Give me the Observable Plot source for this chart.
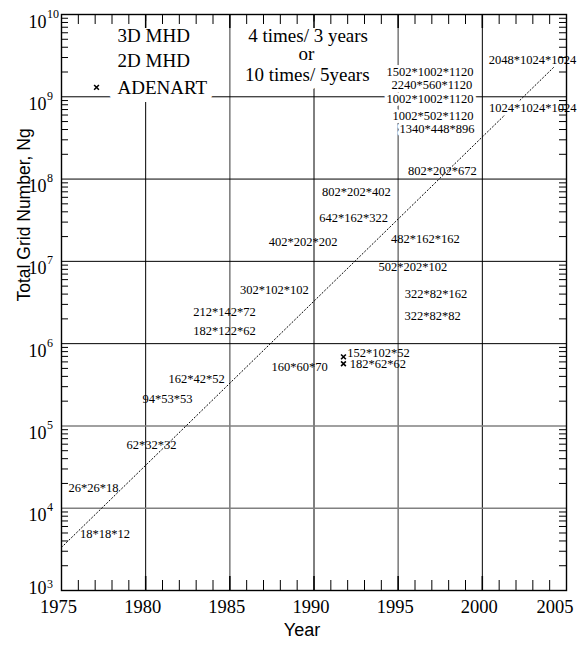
<!DOCTYPE html>
<html><head><meta charset="utf-8">
<script src="https://cdn.jsdelivr.net/npm/d3@7"></script>
<script src="https://cdn.jsdelivr.net/npm/@observablehq/plot@0.6"></script>
<style>body{margin:0;background:#fff}</style>
</head><body><div id="chart"></div>
<script>
// ---- data ----
const xTicks = [1975, 1980, 1985, 1990, 1995, 2000, 2005];
const decades = [3, 4, 5, 6, 7, 8, 9, 10];

const labelText = ["18*18*12","26*26*18","62*32*32","94*53*53","162*42*52","182*122*62","212*142*72","302*102*102","160*60*70","402*202*202","642*162*322","802*202*402","482*162*162","502*202*102","322*82*162","322*82*82","152*102*52","182*62*62","802*202*672"];
const labelYear = [1977.58,1976.90,1980.35,1981.30,1983.02,1984.68,1984.68,1987.65,1989.14,1989.35,1992.35,1992.52,1996.62,1995.88,1997.25,1997.04,1993.83,1993.80,1997.63];
const labelValue = [4.9e3,1.74e4,5.9e4,2.14e5,3.7e5,1.41e6,2.4e6,4.47e6,5.25e5,1.74e7,3.39e7,6.9e7,1.86e7,8.5e6,3.98e6,2.19e6,7.6e5,5.6e5,1.26e8];

const boxedText = ["1502*1002*1120","2240*560*1120","1002*1002*1120","1002*502*1120","1340*448*896","2048*1024*1024","1024*1024*1024"];
const boxedYear = [1996.89,1997.0,1996.89,1997.07,1997.31,2002.98,2003.0];
const boxedValue = [2.0e9,1.38e9,9.3e8,5.9e8,4.07e8,2.82e9,7.4e8];

const legendText = ["3D MHD","2D MHD","ADENART"];
const legendYear = [1978.33,1978.33,1978.33];
const legendValue = [5.56e9,2.75e9,1.3e9];

const noteText = ["4 times/ 3 years","or","10 times/ 5years"];
const noteYear = [1989.65,1989.55,1989.6];
const noteValue = [5.56e9,3.36e9,1.86e9];

const markerYear = [1977.08, 1991.75, 1991.75];
const markerValue = [1.3e9, 6.9e5, 5.7e5];

const trendYear = [1975, 2004.35];
const trendValue = [3340, 2.4e9];

// ---- tables ----
const zip = (t, x, y) => t.map((d, i) => ({text: d, year: x[i], value: y[i]}));
const labels = zip(labelText, labelYear, labelValue);
const boxed = zip(boxedText, boxedYear, boxedValue);
const legend = zip(legendText, legendYear, legendValue);
const notes = zip(noteText, noteYear, noteValue);
const markers = markerYear.map((d, i) => ({year: d, value: markerValue[i]}));
const trend = trendYear.map((d, i) => ({year: d, value: trendValue[i]}));

const W = 578, H = 645, mL = 61, mR = 12, mT = 14, mB = 55;
const pxYear = (W - mL - mR) / 30, pxDec = (H - mT - mB) / 7;
const allYears = d3.range(1976, 2005);
const minorYears = allYears.filter(d => d % 5 !== 0);
const majorYears = allYears.filter(d => d % 5 === 0);
const minorVals = [];
for (let e = 3; e < 10; e++) for (let k = 2; k <= 9; k++) minorVals.push(k * 10 ** e);
const up = px => 10 ** (px / pxDec);
const serif = "Liberation Serif", sans = "Liberation Sans";

const chart = Plot.plot({
  width: W, height: H,
  marginLeft: mL, marginRight: mR, marginTop: mT, marginBottom: mB,
  style: {fontFamily: serif, background: "white", color: "black"},
  x: {domain: [1975, 2005], axis: null},
  y: {type: "log", domain: [1e3, 1e10], axis: null},
  marks: [
    // grid
    Plot.ruleX([1980, 1990, 2000], {stroke: "black", strokeWidth: 1}),
    Plot.ruleX([1985, 1995], {stroke: "#808080", strokeWidth: 1.6}),
    Plot.ruleY([1e6, 1e7, 1e8, 1e9], {stroke: "black", strokeWidth: 1}),
    Plot.ruleY([1e4, 1e5], {stroke: "#808080", strokeWidth: 1.6}),
    // trend
    Plot.line(trend, {x: "year", y: "value", stroke: "black", strokeWidth: 1, strokeDasharray: "1.2,2.3"}),
    // plain labels
    Plot.text(labels, {x: "year", y: "value", text: "text", fontFamily: serif, fontSize: 12.5, fill: "black"}),
    // white boxes behind boxed texts
    Plot.text(boxed, {x: "year", y: "value", text: "text", fontFamily: serif, fontSize: 12.5, fill: "white", stroke: "white", strokeWidth: 6}),
    Plot.text(legend, {x: "year", y: "value", text: "text", fontFamily: serif, fontSize: 19, textAnchor: "start", fill: "white", stroke: "white", strokeWidth: 16}),
    Plot.text(notes, {x: "year", y: "value", text: "text", fontFamily: serif, fontSize: 19, fill: "white", stroke: "white", strokeWidth: 16}),
    Plot.text(boxed, {x: "year", y: "value", text: "text", fontFamily: serif, fontSize: 12.5, fill: "black"}),
    Plot.text(legend, {x: "year", y: "value", text: "text", fontFamily: serif, fontSize: 19, textAnchor: "start", fill: "black"}),
    Plot.text(notes, {x: "year", y: "value", text: "text", fontFamily: serif, fontSize: 19, fill: "black"}),
    // markers
    Plot.dot(markers, {x: "year", y: "value", symbol: "times", r: 2.3, stroke: "black", strokeWidth: 1.6}),
    // ticks
    Plot.ruleX(minorYears, {x: d => d, y1: 1e3, y2: 1e3 * up(10), stroke: "black"}),
    Plot.ruleX(minorYears, {x: d => d, y1: 1e10 / up(10), y2: 1e10, stroke: "black"}),
    Plot.ruleX(majorYears, {x: d => d, y1: 1e3, y2: 1e3 * up(14), stroke: "black", strokeWidth: 1.5}),
    Plot.ruleX(majorYears, {x: d => d, y1: 1e10 / up(14), y2: 1e10, stroke: "black", strokeWidth: 1.5}),
    Plot.ruleY(minorVals, {y: d => d, x1: 1975, x2: 1975 + 7 / pxYear, stroke: "black"}),
    Plot.ruleY(minorVals, {y: d => d, x1: 2005 - 7 / pxYear, x2: 2005, stroke: "black"}),
    Plot.frame({stroke: "black", strokeWidth: 1.4}),
    // x tick labels
    Plot.text(xTicks.slice(0, -1), {x: d => d, text: d => String(d), frameAnchor: "bottom", lineAnchor: "top", dy: 9, dx: -3, fontFamily: serif, fontSize: 18.5, fill: "black"}),
    Plot.text(xTicks.slice(-1), {x: d => d, text: d => String(d), frameAnchor: "bottom", lineAnchor: "top", textAnchor: "end", dy: 9, dx: 7, fontFamily: serif, fontSize: 18.5, fill: "black"}),
    // y tick labels 10^n
    Plot.text(decades.filter(d => d > 3), {y: d => 10 ** d, text: () => "10", frameAnchor: "left", textAnchor: "end", lineAnchor: "bottom", dx: -15, dy: 13, fontFamily: serif, fontSize: 18, fill: "black"}),
    Plot.text(decades.filter(d => d > 3), {y: d => 10 ** d, text: d => String(d), frameAnchor: "left", textAnchor: "start", lineAnchor: "bottom", dx: -14.5, dy: 3, fontFamily: serif, fontSize: 12, fill: "black"}),
    Plot.text(decades.filter(d => d === 3), {y: d => 10 ** d, text: () => "10", frameAnchor: "left", textAnchor: "end", lineAnchor: "bottom", dx: -15, dy: 3, fontFamily: serif, fontSize: 18, fill: "black"}),
    Plot.text(decades.filter(d => d === 3), {y: d => 10 ** d, text: d => String(d), frameAnchor: "left", textAnchor: "start", lineAnchor: "bottom", dx: -14.5, dy: -2.5, fontFamily: serif, fontSize: 12, fill: "black"}),
    // titles
    Plot.text(["Year"], {frameAnchor: "bottom", dy: 45, dx: -12, fontFamily: sans, fontSize: 18, fill: "black"}),
    Plot.text(["Total Grid Number, Ng"], {frameAnchor: "left", rotate: -90, lineAnchor: "bottom", dx: -32, dy: -1, fontFamily: sans, fontSize: 17.5, fill: "black"})
  ]
});
document.getElementById("chart").appendChild(chart);
</script>
</body></html>
